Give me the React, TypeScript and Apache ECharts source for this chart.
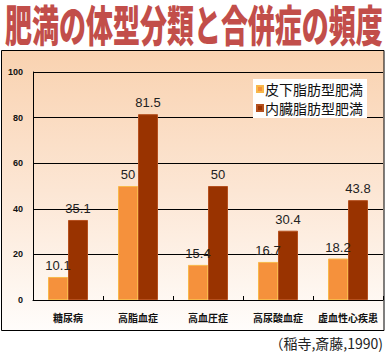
import React, { useEffect, useRef } from "react";
import * as echarts from "echarts";

const categories = ["糖尿病", "高脂血症", "高血圧症", "高尿酸血症", "虚血性心疾患"];
const subcutaneous = [10.1, 50, 15.4, 16.7, 18.2];
const visceral = [35.1, 81.5, 50, 30.4, 43.8];
const seriesNames = ["皮下脂肪型肥満", "内臓脂肪型肥満"];
const titleText = "肥満の体型分類と合併症の頻度";
const sourceText = "（稲寺,斎藤,1990)";

const JP = '"Noto Sans CJK JP", sans-serif';
const NUM = '"Liberation Sans", Arial, sans-serif';

export default function App() {
  const ref = useRef<HTMLDivElement>(null);
  useEffect(() => {
    if (!ref.current) return;
    const chart = echarts.init(ref.current, null, { renderer: "svg" });
    chart.setOption({
      animation: false,
      backgroundColor: "#ffffff",
      graphic: [
        {
          type: "rect",
          z: -10,
          silent: true,
          shape: { x: 1.5, y: 50.5, width: 382.5, height: 280 },
          style: {
            fill: new echarts.graphic.LinearGradient(0, 0, 0, 1, [
              { offset: 0, color: "#f9d2b0" },
              { offset: 0.5, color: "#fce6d4" },
              { offset: 1, color: "#fffdfb" },
            ]),
            stroke: "#000",
            lineWidth: 1,
          },
        },
        {
          type: "text",
          x: 5,
          y: 1,
          scaleY: 1.62,
          style: {
            text: titleText,
            font: `900 27px ${JP}`,
            fill: "#c24e4a",
            textVerticalAlign: "top",
          },
        },
        {
          type: "text",
          right: 9,
          top: 336,
          style: {
            text: sourceText,
            font: `14px ${JP}`,
            fill: "#222",
          },
        },
      ],
      legend: {
        data: seriesNames,
        orient: "vertical",
        left: 253,
        top: 79,
        backgroundColor: "#ffffff",
        padding: [3, 4, 3, 3],
        itemWidth: 6,
        itemHeight: 6,
        itemGap: 5,
        icon: "rect",
        textStyle: { fontSize: 14, fontFamily: JP, color: "#111", padding: [0, 0, 0, -3] },
      },
      grid: { left: 33, top: 72, right: 9, bottom: 58, containLabel: false },
      xAxis: {
        type: "category",
        data: categories,
        axisLine: { lineStyle: { color: "#000", width: 1 } },
        axisTick: { show: true, inside: true, length: 4, alignWithLabel: false, lineStyle: { color: "#000" } },
        axisLabel: { interval: 0, fontSize: 10, fontWeight: "bold", fontFamily: JP, color: "#111", margin: 12 },
      },
      yAxis: {
        type: "value",
        min: 0,
        max: 100,
        interval: 20,
        axisLine: { show: true, lineStyle: { color: "#000" } },
        axisTick: { show: false },
        splitLine: { lineStyle: { color: "#000", width: 1 } },
        axisLabel: { fontSize: 9, fontWeight: "bold", fontFamily: NUM, color: "#111", margin: 10 },
      },
      series: [
        {
          name: seriesNames[0],
          type: "bar",
          data: subcutaneous,
          barWidth: 20,
          barGap: "0%",
          itemStyle: { color: "#f5913c", borderColor: "#f8b84a", borderWidth: 1 },
          label: { show: true, position: "top", distance: 5, fontSize: 13, fontFamily: NUM, color: "#222" },
        },
        {
          name: seriesNames[1],
          type: "bar",
          data: visceral,
          barWidth: 20,
          itemStyle: { color: "#993300", borderColor: "#b5501e", borderWidth: 1 },
          label: { show: true, position: "top", distance: 5, fontSize: 13, fontFamily: NUM, color: "#222" },
        },
      ],
    });
    return () => chart.dispose();
  }, []);
  return (
    <div
      ref={ref}
      style={{ position: "absolute", left: 0, top: 0, width: 392, height: 358 }}
    />
  );
}
